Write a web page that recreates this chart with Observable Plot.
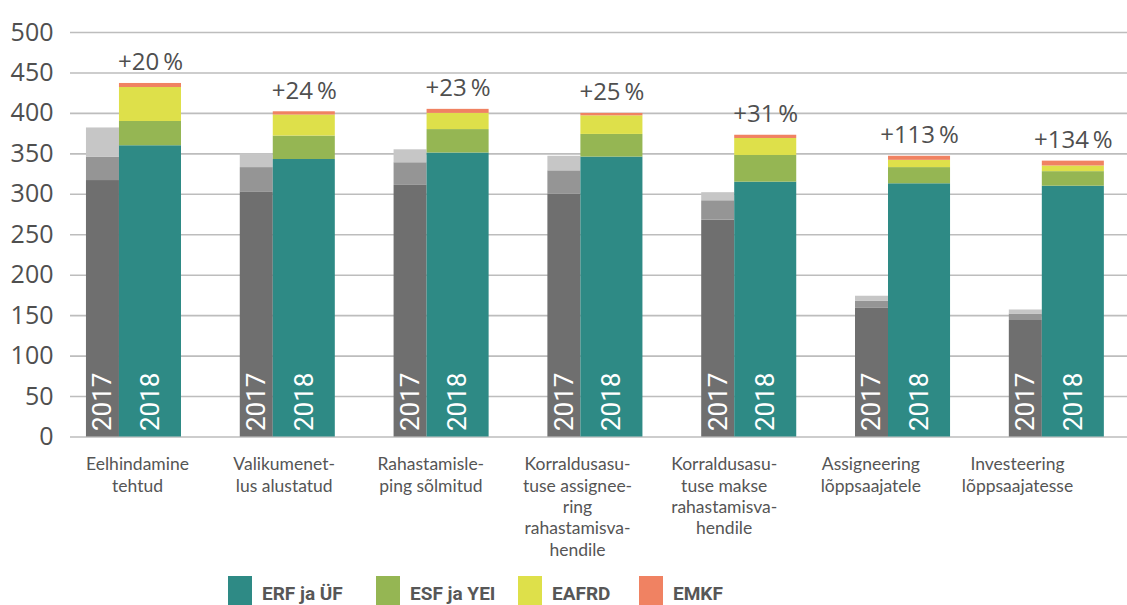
<!DOCTYPE html>
<html>
<head>
<meta charset="utf-8">
<script src="https://cdn.jsdelivr.net/npm/d3@7"></script>
<script src="https://cdn.jsdelivr.net/npm/@observablehq/plot@0.6"></script>
<style>
  html, body { margin: 0; padding: 0; background: #ffffff; }
  #wrap { position: relative; width: 1127px; height: 605px; overflow: hidden; }
  #legend { position: absolute; left: 0; top: 560px; width: 1127px; height: 45px; }
  .item { position: absolute; top: 16px; display: flex; align-items: flex-start; }
  .sw { width: 24px; height: 29px; margin-right: 10px; }
  .lab { font-family: "Roboto", "Liberation Sans", sans-serif; font-weight: bold; font-size: 19px; color: #575757; line-height: 29px; margin-top: 3px; }
</style>
</head>
<body>
<div id="wrap">
  <div id="chart"></div>
  <div id="legend"></div>
</div>
<script>
// ---- data ----
const categories = [
  "Eelhindamine\ntehtud",
  "Valikumenet-\nlus alustatud",
  "Rahastamisle-\nping sõlmitud",
  "Korraldusasu-\ntuse assignee-\nring\nrahastamisva-\nhendile",
  "Korraldusasu-\ntuse makse\nrahastamisva-\nhendile",
  "Assigneering\nlõppsaajatele",
  "Investeering\nlõppsaajatesse"
];
const growth = ["+20\u2009%", "+24\u2009%", "+23\u2009%", "+25\u2009%", "+31\u2009%", "+113\u2009%", "+134\u2009%"];
const years = ["2017", "2018"];
const funds = ["ERF ja ÜF", "ESF ja YEI", "EAFRD", "EMKF"];

const erf2017   = [317, 303, 311, 300, 268, 159, 144];
const esf2017   = [29, 30, 28, 29, 24, 9, 8];
const eafrd2017 = [36, 17, 16, 18, 10, 6, 5];
const emkf2017  = [0, 0, 0, 0, 0, 0, 0];

const erf2018   = [360, 343, 351, 346, 315, 313, 310];
const esf2018   = [30, 29, 29, 28, 33, 20, 18];
const eafrd2018 = [42, 26, 20, 23, 21, 9, 7];
const emkf2018  = [5, 4, 5, 3, 4, 5, 6];

const yTicks = [0, 50, 100, 150, 200, 250, 300, 350, 400, 450, 500];

// ---- styles / layout ----
const colors2018 = ["#2e8a85", "#95b653", "#dee04a", "#f08262"];
const colors2017 = ["#6f6f6f", "#959595", "#c6c6c6", "#c6c6c6"];
const groupStep = 1.0487;                 // bar groups spread slightly wider than labels
const barOffsets = {"2017": [-0.348, -0.123], "2018": [-0.123, 0.300]};
const sans = '"Open Sans", "DejaVu Sans", sans-serif';
const lato = '"Lato", "Open Sans", sans-serif';
const roboto = '"Roboto", "Liberation Sans", sans-serif';

// ---- build rows ----
const series = {
  "2017": [erf2017, esf2017, eafrd2017, emkf2017],
  "2018": [erf2018, esf2018, eafrd2018, emkf2018]
};
const rows = [];
const yearLabels = [];
const totals = [];
categories.forEach((c, i) => {
  years.forEach(yr => {
    let acc = 0;
    const [o1, o2] = barOffsets[yr];
    const x1 = i * groupStep + o1, x2 = i * groupStep + o2;
    series[yr].forEach((arr, k) => {
      const v = arr[i];
      if (v > 0) {
        rows.push({x1, x2, y1: acc, y2: acc + v, fill: (yr === "2018" ? colors2018 : colors2017)[k], fund: funds[k], year: yr});
      }
      acc += v;
    });
    yearLabels.push({x: (x1 + x2) / 2, year: yr});
    if (yr === "2018") totals.push({x: (x1 + x2) / 2, total: acc, text: growth[i]});
  });
});
const catRows = categories.map((c, i) => ({i, label: c}));

const chart = Plot.plot({
  width: 1127,
  height: 560,
  marginTop: 32,
  marginBottom: 123.5,
  marginLeft: 70,
  marginRight: 0,
  style: {background: "#ffffff"},
  x: {type: "linear", domain: [0, 6], range: [137, 1017], axis: null},
  y: {domain: [0, 500], axis: null},
  marks: [
    Plot.ruleY(yTicks, {stroke: "#bdbdbd", strokeWidth: 1.6}),
    Plot.axisY({ticks: yTicks, tickSize: 0, tickPadding: 17, fontSize: 25, fontFamily: sans, fill: "#4f4f4f", label: null}),
    Plot.rectY(rows, {x1: "x1", x2: "x2", y1: "y1", y2: "y2", fill: "fill"}),
    Plot.text(yearLabels, {x: "x", y: () => 0, text: "year", rotate: -90, textAnchor: "start", dy: -6, fill: "#ffffff", fontSize: 26, fontFamily: roboto}),
    Plot.text(totals, {x: "x", y: "total", text: "text", lineAnchor: "bottom", dy: -13, fontSize: 24, fontFamily: sans, fill: "#4f4f4f"}),
    Plot.text(catRows, {x: "i", y: () => 0, text: "label", lineAnchor: "top", dy: 18, lineHeight: 1.22, fontSize: 17.5, fontFamily: lato, fill: "#555555"})
  ]
});
document.getElementById("chart").appendChild(chart);

// ---- legend ----
const legendLeft = [228, 376, 518, 639];
const legend = document.getElementById("legend");
funds.forEach((f, k) => {
  const it = document.createElement("div");
  it.className = "item";
  it.style.left = legendLeft[k] + "px";
  const sw = document.createElement("div");
  sw.className = "sw";
  sw.style.background = colors2018[k];
  const lab = document.createElement("div");
  lab.className = "lab";
  lab.textContent = f;
  it.appendChild(sw);
  it.appendChild(lab);
  legend.appendChild(it);
});
</script>
</body>
</html>
